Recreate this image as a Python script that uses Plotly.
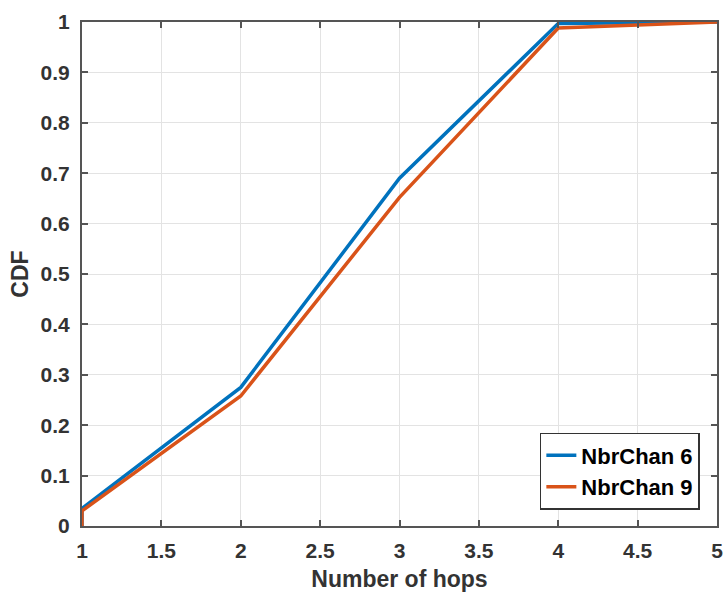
import plotly.graph_objects as go

hops = [1, 1, 2, 3, 4, 5]
cdf_chan6 = [0.0, 0.035, 0.275, 0.69, 0.997, 1.0]
cdf_chan9 = [0.0, 0.030, 0.258, 0.652, 0.988, 1.0]
series_names = ["NbrChan 6", "NbrChan 9"]
x_ticks = [1, 1.5, 2, 2.5, 3, 3.5, 4, 4.5, 5]
y_ticks = [0, 0.1, 0.2, 0.3, 0.4, 0.5, 0.6, 0.7, 0.8, 0.9, 1]

FONT = "Arial, Liberation Sans"

fig = go.Figure()
fig.add_trace(go.Scatter(x=hops, y=cdf_chan6, mode="lines", name=f"<b>{series_names[0]}</b>",
                         line=dict(color="#0072BD", width=3.5)))
fig.add_trace(go.Scatter(x=hops, y=cdf_chan9, mode="lines", name=f"<b>{series_names[1]}</b>",
                         line=dict(color="#D95319", width=3.5)))

axis_common = dict(showline=True, linecolor="#555555", linewidth=2, mirror="ticks",
                   ticks="inside", ticklen=6, tickcolor="#555555", tickwidth=1.5,
                   showgrid=True, gridcolor="#e3e3e3", gridwidth=1, zeroline=False,
                   ticklabeloverflow="allow",
                   tickfont=dict(family=FONT, size=21, color="#333333"))

fig.update_layout(
    width=726, height=592,
    margin=dict(l=82, r=3, t=22, b=66),
    paper_bgcolor="white", plot_bgcolor="white",
    font=dict(family=FONT, color="#333333"),
    xaxis=dict(range=[1, 5], tickvals=x_ticks, ticktext=[f"<b>{v:g}</b>" for v in x_ticks],
               ticklabelstandoff=5,
               title=dict(text="<b>Number of hops</b>", font=dict(size=23, color="#333333"), standoff=11),
               **axis_common),
    yaxis=dict(range=[0, 1], tickvals=y_ticks, ticktext=[f"<b>{v:g}</b>" for v in y_ticks],
               ticklabelstandoff=6,
               title=dict(text="<b>CDF</b>", font=dict(size=23, color="#333333"), standoff=6),
               **axis_common),
    legend=dict(x=0.973, y=0.032, xanchor="right", yanchor="bottom",
                bgcolor="white", bordercolor="#333333", borderwidth=1.5,
                font=dict(family=FONT, size=22, color="black"), tracegroupgap=0),
    showlegend=True,
)

fig.write_html("out.html")
